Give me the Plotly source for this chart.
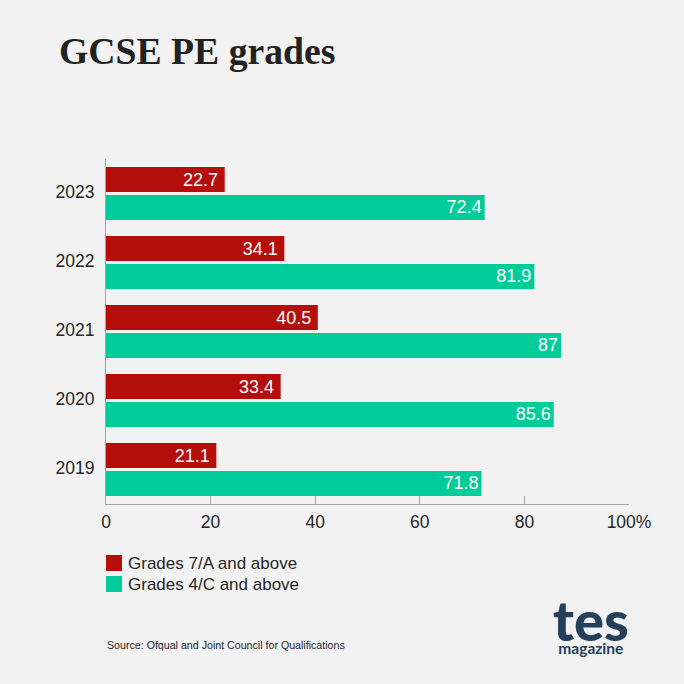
import plotly.graph_objects as go

years = ["2023", "2022", "2021", "2020", "2019"]
grade7 = [22.7, 34.1, 40.5, 33.4, 21.1]
grade4 = [72.4, 81.9, 87, 85.6, 71.8]
name7 = "Grades 7/A and above"
name4 = "Grades 4/C and above"
tick_vals = [0, 20, 40, 60, 80, 100]
tick_text = ["0", "20", "40", "60", "80", "100%"]
RED = "#b50f0c"
GREEN = "#00cc99"
W = H = 684
L, R, T, B = 106, 629, 159, 504
SANS = "Liberation Sans"
TXT = "#262626"
LOGO = "#24405a"

def px(v):
    return (v - L) / (R - L)

def py(v):
    return (B - v) / (B - T)

fig = go.Figure()
for name, vals, col, pad in [(name7, grade7, RED, "\u2009"), (name4, grade4, GREEN, "")]:
    fig.add_trace(go.Bar(
        y=years, x=vals, name=name, orientation="h",
        marker=dict(color=col, line=dict(width=0)),
        text=[str(v) + pad for v in vals], textposition="inside",
        insidetextanchor="end", textangle=0, constraintext="none",
        textfont=dict(family=SANS, size=18, color="white"),
        cliponaxis=False, showlegend=False, hoverinfo="skip",
    ))

logo_text = ("<span style='font-size:56px;font-weight:900'>tes</span><br>"
             "<span style='font-size:15.5px;font-weight:700'>magazine</span>")
annotations = [
    dict(x=px(59), y=py(51), text="<b>GCSE PE grades</b>", xanchor="left", yanchor="middle",
         font=dict(family="Liberation Serif", size=37.7, color="#222222")),
    dict(x=px(128), y=py(563.5), text=name7, xanchor="left", yanchor="middle",
         font=dict(family=SANS, size=17, color=TXT)),
    dict(x=px(128), y=py(584.5), text=name4, xanchor="left", yanchor="middle",
         font=dict(family=SANS, size=17, color=TXT)),
    dict(x=px(107), y=py(645), text="Source: Ofqual and Joint Council for Qualifications",
         xanchor="left", yanchor="middle", font=dict(family=SANS, size=10.65, color=TXT)),
    dict(x=px(591), y=py(621), text=logo_text, xanchor="center", yanchor="middle",
         font=dict(family="Lato", size=10, color=LOGO)),
]
for a in annotations:
    a.update(xref="paper", yref="paper", showarrow=False, borderpad=0, borderwidth=0)

shapes = [
    dict(type="rect", xref="paper", yref="paper", x0=px(106), x1=px(122), y0=py(571), y1=py(555),
         fillcolor=RED, line_width=0),
    dict(type="rect", xref="paper", yref="paper", x0=px(106), x1=px(122), y0=py(592), y1=py(576),
         fillcolor=GREEN, line_width=0),
]

fig.update_layout(
    width=W, height=H, autosize=False,
    paper_bgcolor="#f2f2f2", plot_bgcolor="#f2f2f2",
    margin=dict(l=L, r=W - R, t=T, b=H - B, pad=0),
    barmode="group", bargap=0.19, bargroupgap=0.1,
    annotations=annotations, shapes=shapes, showlegend=False,
    xaxis=dict(range=[0, 100], tickvals=tick_vals, ticktext=tick_text, showgrid=False, zeroline=False,
               showline=True, linecolor="#a3a3a3", linewidth=1, ticks="inside", ticklen=8,
               tickcolor="#a3a3a3", tickwidth=1, ticklabelstandoff=2,
               tickfont=dict(family=SANS, size=17.5, color=TXT)),
    yaxis=dict(type="category", autorange="reversed", showgrid=False, zeroline=False,
               showline=True, linecolor="#a3a3a3", linewidth=1, ticks="", ticklabelstandoff=7,
               ticklabelshift=2,
               tickfont=dict(family=SANS, size=17.5, color=TXT)),
)
fig.write_html("out.html", config=dict(displayModeBar=False),
               post_script="document.body.style.margin='0';document.documentElement.style.background='#f2f2f2';document.body.style.overflow='hidden';")
